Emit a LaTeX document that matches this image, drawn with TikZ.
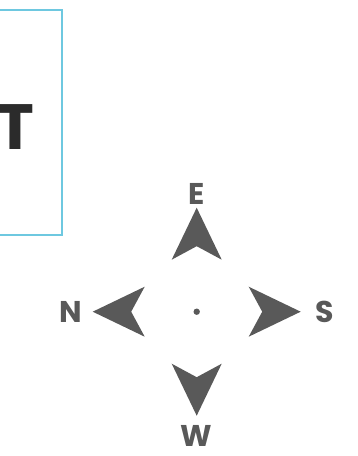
\documentclass[tikz,border=0pt]{standalone}
\usepackage{fontspec}
\setmainfont{Poppins}
\usepackage{xcolor}
\definecolor{frame}{HTML}{6EC8E0}
\definecolor{ink}{HTML}{2B2B2B}
\definecolor{pointergray}{HTML}{595959}
\usetikzlibrary{positioning,calc}
\tikzset{
  px/.style={x=1pt, y=-1pt},
  panel/.style={draw=frame, line width=1.4pt, minimum width=96pt, minimum height=225pt, inner sep=0pt},
  bigletter/.style={font=\fontsize{64}{64}\selectfont\bfseries, text=ink, inner sep=0pt},
  pointer/.style={fill=pointergray, draw=none},
  dirlabel/.style={font=\fontsize{30}{30}\selectfont\bfseries, text=pointergray, inner sep=0pt},
}
\begin{document}
\begin{tikzpicture}[px]
  \useasboundingbox (0,0) rectangle (357,456);
  % panel on the left, cut by the page edge
  \node[panel] (box) at (14,122.5) {};
  \node[bigletter] (title) at (15.5,127.5) {T};
  % compass
  \coordinate (c) at (196.7,311.7);
  \fill[pointergray] (c) circle (3.2);
  \begin{scope}[shift={(c)}, x=1pt, y=1pt]
    \foreach \ang/\lab/\dist in {90/E/118, 180/N/126, 0/S/128, 270/W/124}{
      \fill[pointer, rotate=\ang] (104,0) -- (52,25) -- (65.5,0) -- (52,-25) -- cycle;
      \node[dirlabel] (\lab) at (\ang:\dist) {\lab};
    }
  \end{scope}
\end{tikzpicture}
\end{document}
